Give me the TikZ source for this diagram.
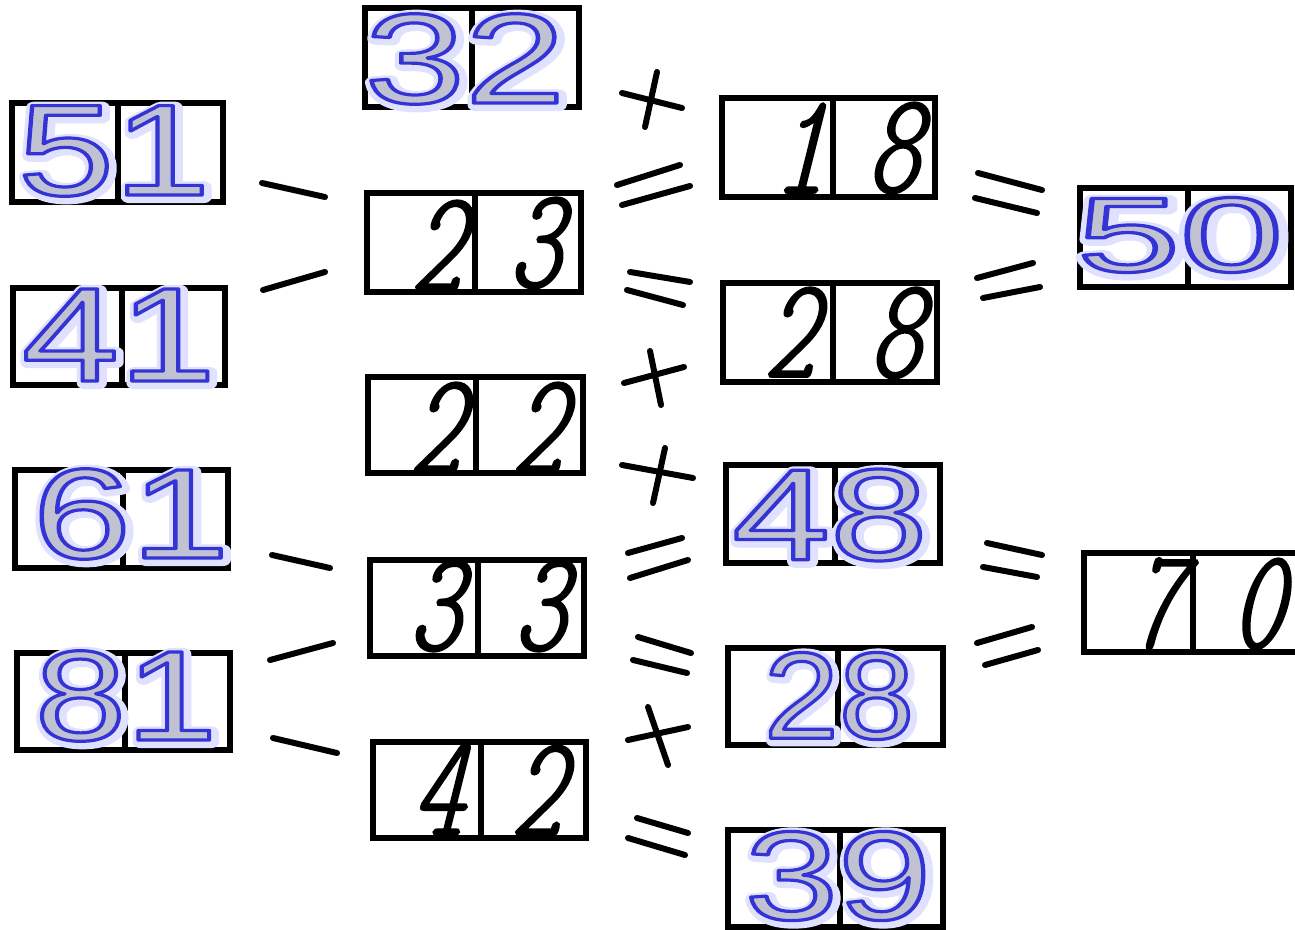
\documentclass[tikz,border=0pt]{standalone}
\usepackage{fontspec}
\newfontfamily\arialf{Liberation Sans}
\newfontfamily\handf{lmmonoltcond10-regular}[Extension=.otf, FakeSlant=0.25, FakeBold=1.3]
\definecolor{fillg}{RGB}{192,194,210}
\definecolor{glowc}{RGB}{224,224,255}
\tikzset{
  cell/.style={draw=black, line width=2.6pt, inner sep=0pt},
  hw/.style={inner sep=0pt, anchor=base, font={\handf\fontsize{72}{72}\selectfont}},
  sign/.style={line width=3pt, line cap=round},
  bn/.style={inner sep=0pt},
}
% two-cell box: name, x1, y1, xdiv, x2, y2
\newcommand\numbox[6]{%
  \node[cell, minimum width={(#4-#2)*0.5pt}, minimum height={(#6-#3)*0.5pt}]
    (#1a) at ({(#2+#4)/2},{(#3+#6)/2}) {};
  \node[cell, minimum width={(#5-#4)*0.5pt}, minimum height={(#6-#3)*0.5pt}]
    (#1b) at ({(#4+#5)/2},{(#3+#6)/2}) {};
}
% outlined text via PDF text render mode (fill + stroke)
\newcommand\strokedtext[3]{% stroke-width, stroke rgb, text
  \special{pdf:literal direct 2 Tr #1 w 1 j #2 RG}#3\special{pdf:literal direct 0 Tr}}
% blue outlined number: name, x, y, size(pt), xscale, digits
\newcommand\bnum[6]{%
  \node[bn] at ({#2+2},{#3+2}) {\scalebox{#5}[1]{\arialf\fontsize{#4}{#4}\selectfont\color{glowc}\strokedtext{6}{0.878 0.878 1}{#6}}};
  \node[bn] (#1) at (#2,#3) {\scalebox{#5}[1]{\arialf\fontsize{#4}{#4}\selectfont\color{fillg}\strokedtext{1.6}{0.2 0.2 0.84}{#6}}};
}
\begin{document}
\begin{tikzpicture}[x=0.5pt, y=-0.5pt]
\useasboundingbox (0,0) rectangle (1295,930);
\fill[white] (0,0) rectangle (1295,930);
% boxes
\numbox{b51}{12}{103}{118}{223}{202}
\numbox{b41}{13}{288}{122}{225}{385}
\numbox{b61}{15}{470}{123}{228}{568}
\numbox{b81}{17}{653}{125}{230}{750}
\numbox{b32}{365}{8}{472}{579}{107}
\numbox{b23}{367}{193}{475}{581}{292}
\numbox{b22}{368}{377}{476}{583}{473}
\numbox{b33}{370}{560}{478}{584}{656}
\numbox{b42}{373}{742}{481}{586}{838}
\numbox{b18}{722}{98}{833}{935}{197}
\numbox{b28h}{723}{283}{833}{937}{382}
\numbox{b48}{726}{465}{835}{940}{563}
\numbox{b28}{728}{648}{838}{943}{745}
\numbox{b39}{728}{830}{840}{943}{927}
\numbox{b50}{1080}{188}{1188}{1291}{287}
\numbox{b70}{1084}{553}{1193}{1305}{652}
% handwritten digits
\node[hw] (h23a) at (436,290) {2};
\node[hw] (h23b) at (534,287) {3};
\node[hw] (h18a) at (799,193) {1};
\node[hw] (h18b) at (892,192) {8};
\node[hw] (h28a) at (789,377) {2};
\node[hw] (h28b) at (894,377) {8};
\node[hw] (h22a) at (435,472) {2};
\node[hw] (h22b) at (537,472) {2};
\node[hw] (h33a) at (434,650) {3};
\node[hw] (h33b) at (539,650) {3};
\node[hw] (h42a) at (437,835) {4};
\node[hw] (h42b) at (536,835) {2};
\node[hw] (h70a) at (1155,648) {7};
\node[hw] (h70b) at (1256,648) {0};
% blue numbers
\bnum{n32}{465}{59}{64}{1.41}{32}
\bnum{n51}{114}{151}{65}{1.33}{51}
\bnum{n41}{119}{335}{67}{1.3}{41}
\bnum{n61}{131}{514}{64}{1.38}{61}
\bnum{n81}{126}{696}{64}{1.28}{81}
\bnum{n50}{1180}{235}{53}{1.75}{50}
\bnum{n48}{830}{515}{65}{1.35}{48}
\bnum{n28}{839}{696}{61.5}{1.1}{28}
\bnum{n39}{838}{876}{63}{1.33}{39}
% minus signs
\draw[sign] (262,183) -- (325,197);
\draw[sign] (263,290) -- (325,272);
\draw[sign] (272,555) -- (330,568);
\draw[sign] (270,660) -- (333,643);
\draw[sign] (273,738) -- (337,753);
% plus signs
\draw[sign] (622,93) -- (682,108);
\draw[sign] (657,72) -- (645,127);
\draw[sign] (624,383) -- (684,367);
\draw[sign] (650,351) -- (661,405);
\draw[sign] (622,465) -- (693,478);
\draw[sign] (665,448) -- (653,503);
\draw[sign] (628,740) -- (688,727);
\draw[sign] (648,707) -- (668,765);
% equals signs (middle)
\draw[sign] (617,185) -- (680,165);
\draw[sign] (622,205) -- (690,186);
\draw[sign] (630,272) -- (690,282);
\draw[sign] (627,290) -- (683,305);
\draw[sign] (628,553) -- (682,538);
\draw[sign] (630,578) -- (688,560);
\draw[sign] (638,637) -- (691,653);
\draw[sign] (633,660) -- (687,673);
\draw[sign] (637,818) -- (688,833);
\draw[sign] (628,838) -- (685,855);
% equals signs (right)
\draw[sign] (978,173) -- (1042,190);
\draw[sign] (975,198) -- (1037,213);
\draw[sign] (977,278) -- (1033,263);
\draw[sign] (983,298) -- (1040,287);
\draw[sign] (987,543) -- (1042,555);
\draw[sign] (983,567) -- (1037,577);
\draw[sign] (977,643) -- (1032,627);
\draw[sign] (985,665) -- (1038,650);
\end{tikzpicture}
\end{document}
